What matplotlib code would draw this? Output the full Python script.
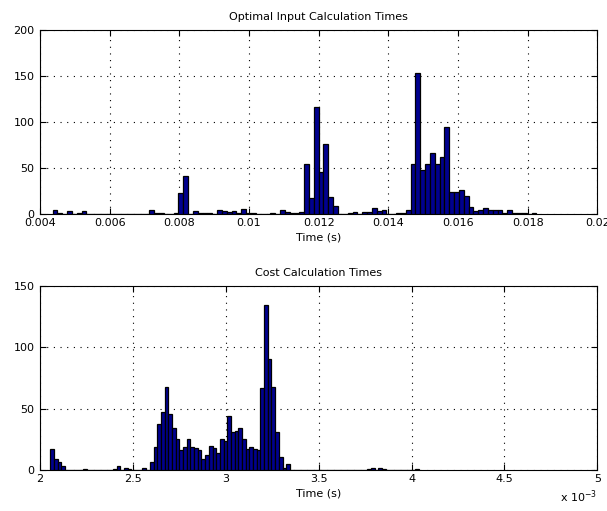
import numpy as np
import matplotlib
matplotlib.use("Agg")
import matplotlib.pyplot as plt
from matplotlib.ticker import FuncFormatter

# hist counts, 100 bins each
input_range = (0.00436, 0.01825)
input_counts = [5, 1, 0, 3, 0, 1, 3, 0, 0, 0,
                0, 0, 0, 0, 0, 0, 0, 0, 0, 0,
                4, 1, 1, 0, 0, 1, 23, 41, 0, 3,
                1, 1, 1, 0, 5, 3, 2, 3, 1, 6,
                1, 1, 0, 0, 0, 1, 0, 4, 2, 1,
                1, 2, 54, 17, 116, 46, 76, 19, 9, 0,
                0, 1, 2, 0, 2, 2, 7, 3, 4, 0,
                0, 1, 1, 4, 55, 153, 48, 55, 66, 55,
                62, 95, 24, 24, 26, 20, 8, 3, 5, 7,
                4, 4, 4, 1, 4, 1, 1, 1, 0, 1]

cost_range = (0.002055, 0.00404)
cost_counts = [17, 9, 7, 3, 0, 0, 0, 0, 0, 1,
               0, 0, 0, 0, 0, 0, 0, 1, 3, 0,
               2, 1, 0, 0, 0, 2, 0, 7, 19, 38,
               47, 68, 46, 34, 25, 16, 19, 25, 19, 18,
               16, 9, 12, 20, 18, 14, 25, 24, 44, 31,
               32, 34, 25, 17, 19, 17, 16, 67, 135, 91,
               68, 31, 11, 2, 5, 0, 0, 0, 0, 0,
               0, 0, 0, 0, 0, 0, 0, 0, 0, 0,
               0, 0, 0, 0, 0, 0, 1, 2, 0, 2,
               1, 0, 0, 0, 0, 0, 0, 0, 0, 1]

titles = ["Optimal Input Calculation Times", "Cost Calculation Times"]
xlims = [(0.004, 0.02), (0.002, 0.005)]
ylims = [(0, 200), (0, 150)]
yticks = [[0, 50, 100, 150, 200], [0, 50, 100, 150]]
xticks = [np.arange(0.004, 0.0201, 0.002), np.arange(0.002, 0.00501, 0.0005)]

plt.rcParams['font.family'] = ['DejaVu Sans']
plt.rcParams['font.size'] = 8

fig = plt.figure(figsize=(6.07, 5.11), dpi=100)
ax1 = fig.add_axes([0.066, 0.581, 0.918, 0.360])
ax2 = fig.add_axes([0.066, 0.080, 0.918, 0.360])

data = [(input_range, input_counts), (cost_range, cost_counts)]
for i, ax in enumerate([ax1, ax2]):
    rng, counts = data[i]
    edges = np.linspace(rng[0], rng[1], len(counts) + 1)
    ax.bar(edges[:-1], counts, width=np.diff(edges), align='edge',
           color='#00008f', edgecolor='black', linewidth=0.9, zorder=3)
    ax.set_xlim(*xlims[i])
    ax.set_ylim(*ylims[i])
    ax.set_xticks(xticks[i])
    ax.set_yticks(yticks[i])
    ax.grid(True, color='black', linestyle=(0, (1, 5)), linewidth=0.8)
    ax.set_axisbelow(False)
    ax.tick_params(direction='in', top=True, right=True, length=4, width=0.8,
                   labelsize=8)
    ax.tick_params(axis='x', pad=3)
    ax.tick_params(axis='y', pad=4)
    for s in ax.spines.values():
        s.set_linewidth(0.8)
    ax.set_title(titles[i], fontsize=8, pad=7)
    ax.set_xlabel("Time (s)", fontsize=8, labelpad=3)

ax1.xaxis.set_major_formatter(FuncFormatter(lambda v, p: "%g" % round(v, 4)))
ax2.xaxis.set_major_formatter(FuncFormatter(lambda v, p: "%g" % round(v * 1e3, 2)))
ax2.text(1.0, -0.10, r"x 10$^{-3}$", transform=ax2.transAxes, ha='right',
         va='top', fontsize=8)

fig.savefig("out.png", dpi=100, facecolor='white')
